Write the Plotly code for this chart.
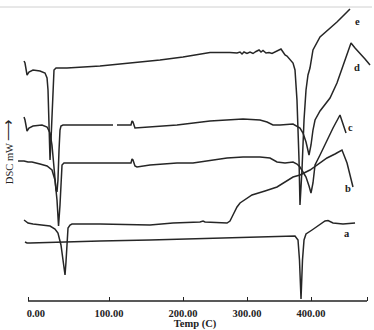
import numpy as np
import plotly.graph_objects as go

# ---- printed (non-uniform) temperature axis ----
TICK_TEMPS = [0, 100, 200, 300, 400]
TICK_LABELS = ["\u2007\u2007\u20070.00", "100.00", "200.00", "300.00", "400.00"]
TICK_POS = [0, 81, 155, 219, 283]      # where each printed tick sits on the axis
AXIS_END_T = 487.5

# ---- curves: temperature (C) / DSC signal (arbitrary mW units) ----
E_T = [-4.9, -3.7, -1.2, 1.2, 6.2, 14.8, 21.0, 23.5, 24.7, 25.9, 27.2, 28.4, 29.6, 30.9, 32.1, 34.6,
       48.1, 88.9, 132.4, 168.9, 200.0, 242.2, 273.4, 284.4, 289.1, 292.2, 295.3, 300.0, 304.7, 309.4,
       314.1, 318.8, 321.9, 325.0, 329.7, 334.4, 339.1, 343.8, 348.4, 353.1, 356.3, 359.4, 362.5,
       365.6, 368.8, 371.9, 375.0, 378.1,
       381.3, 382.8, 385.9, 389.1, 392.2, 395.3, 398.4, 400.0, 403.1, 414.1, 425.0, 440.6, 456.3, 460.9]
E_Y = [239, 237, 225, 228, 230, 229, 227, 222, 210, 180, 140, 160, 190, 220, 230, 232,
       232, 234, 237, 240, 243, 247.5, 247.5, 247, 248, 246, 248, 246.5, 248, 246.5,
       248.5, 250, 248, 249.5, 247, 247.5, 246.5, 248, 249, 251, 248, 245, 244,
       242, 240, 237, 230, 200,
       140, 95, 130, 180, 210, 225, 232, 238, 250, 263, 269, 278, 288, 291]

D_T = [-4.9, -3.7, -1.2, 1.2, 6.2, 17.3, 23.5, 27.2, 29.6, 32.1, 34.6, 35.8, 37.0, 38.3, 39.5, 40.7,
       43.2, 64.2, 105.4, None, 110.8, 129.7, 131.1, 132.4, 135.1, 155.4, 191.9, 242.2, 293.8, 320.3,
       331.3, 340.6, 351.6, 371.9, 378.1, 382.8, 387.5, 392.2, 396.9, 400.0, 403.1, 406.3, 414.1,
       421.9, 429.7, 440.6, 451.6, 462.5, 468.8, 476.6, 484.4, 492.2]
D_Y = [183, 180, 169, 172, 174, 175, 173, 167, 155, 135, 110, 108, 120, 150, 170, 174,
       175, 175, 175, None, 175, 175, 179, 178, 172, 173, 175, 179, 181, 180,
       178, 175, 175, 176, 174, 172, 167, 158, 145, 155, 170, 180, 189,
       196, 202, 217, 238, 257, 252, 247, 241, 235]

C_T = [-12.3, -4.9, 0.0, 4.9, 14.8, 23.5, 29.6, 33.3, 35.8, 37.7, 39.5, 40.7, 42.0, 44.4, 64.2,
       108.1, 129.7, 131.1, 132.4, 135.1, 137.8, 155.4, 191.9, 215.6, 268.8, 293.8, 320.3, 335.9,
       346.9, 359.4, 371.9, 378.1, 382.8, 387.5, 392.2, 396.9, 400.0, 403.1, 406.3, 414.1, 425.0,
       434.4, 445.3, 450.0, 454.7]
C_Y = [139, 139, 138, 138, 136, 134, 130, 120, 100, 74, 95, 120, 135, 137, 137,
       137, 137, 141, 140, 134, 133, 135, 137, 137, 142, 143, 143, 142,
       138, 137, 138, 136, 133, 128, 123, 114, 107, 117, 135, 145, 160,
       172, 185, 176, 167]

B_T = [-4.9, -2.5, 0.0, 6.2, 14.8, 27.2, 33.3, 37.0, 40.7, 43.2, 45.7, 46.9, 48.1, 49.4, 51.9, 54.3,
       88.9, 155.4, 186.5, 226.6, 231.3, 234.4, 268.8, 273.4, 278.1, 284.4, 289.1, 300.0, 307.8,
       328.1, 346.9, 371.9, 382.8, 398.4, 414.1, 425.0, 437.5, 448.4, 456.3, 460.9, 465.6]
B_Y = [80, 78, 77, 76, 75, 74, 71, 67, 55, 38, 25, 38, 60, 72, 75, 76,
       76, 75, 77, 78, 79, 78, 77, 79, 85, 93, 97, 102, 105,
       109, 113, 123, 125, 130, 137, 142, 146, 150, 137, 125, 113]

A_T = [-3.7, -1.2, 2.5, 39.5, 88.9, 155.4, 226.6, 304.7, 365.6, 375.0, 379.7, 382.0, 384.4, 386.7,
       389.1, 392.2, 401.6, 414.1, 421.9, 426.6, 434.4, 450.0, 460.9, 468.8]
A_Y = [58, 57, 57, 58, 59, 60, 61.5, 63, 64.5, 64, 60, 40, 1, 40, 60, 66, 70, 76, 79, 79.5, 77, 76,
       76.5, 77]

SERIES = [("a", A_T, A_Y), ("b", B_T, B_Y), ("c", C_T, C_Y), ("d", D_T, D_Y), ("e", E_T, E_Y)]
LABEL_POS = {"e": (473, 279), "d": (472, 233), "c": (461, 173), "b": (458, 112), "a": (456, 67)}


def to_axis(temps):
    t = np.array([np.nan if v is None else v for v in temps], dtype=float)
    u = np.interp(t, TICK_TEMPS, TICK_POS)
    lo_slope = (TICK_POS[1] - TICK_POS[0]) / (TICK_TEMPS[1] - TICK_TEMPS[0])
    hi_slope = (TICK_POS[-1] - TICK_POS[-2]) / (TICK_TEMPS[-1] - TICK_TEMPS[-2])
    u = np.where(t < TICK_TEMPS[0], TICK_POS[0] + (t - TICK_TEMPS[0]) * lo_slope, u)
    u = np.where(t > TICK_TEMPS[-1], TICK_POS[-1] + (t - TICK_TEMPS[-1]) * hi_slope, u)
    return u


def nan_to_none(arr):
    return [None if (v is None or (isinstance(v, float) and np.isnan(v))) else v for v in arr]


LINE = "#262626"
SERIF = "Liberation Serif, Times New Roman, serif"

fig = go.Figure()
for name, t, y in SERIES:
    fig.add_trace(go.Scatter(x=nan_to_none(to_axis(t).tolist()), y=y, mode="lines",
                             line=dict(color=LINE, width=1.5), connectgaps=False,
                             showlegend=False, hoverinfo="skip"))

for name, (t, y) in LABEL_POS.items():
    fig.add_annotation(x=float(to_axis([t])[0]), y=y, text="<b>%s</b>" % name, showarrow=False,
                       font=dict(family=SERIF, size=10.5, color="#222"))

axis_end = float(to_axis([AXIS_END_T])[0])
fig.add_shape(type="line", xref="x", yref="paper", x0=TICK_POS[0], x1=axis_end, y0=0, y1=0,
              line=dict(color="#222", width=1.4))
fig.add_shape(type="line", xref="paper", yref="paper", x0=-0.06, x1=1.0, y0=1.0, y1=1.0,
              line=dict(color="#d0d0d0", width=1))

fig.add_annotation(xref="paper", yref="paper", x=-0.028, y=0.51, xanchor="center", yanchor="middle",
                   text="DSC mW <span style='font-size:15px'>\u27f6</span>",
                   textangle=-90, showarrow=False, font=dict(family=SERIF, size=10.5, color="#222"))

fig.update_layout(
    width=374, height=330,
    margin=dict(l=18, r=2, t=7, b=29),
    paper_bgcolor="white", plot_bgcolor="white",
    xaxis=dict(range=[-10, 344], showgrid=False, zeroline=False, showline=False,
               tickmode="array", tickvals=TICK_POS + [axis_end], ticktext=TICK_LABELS + [""],
               ticks="inside", ticklen=4, tickcolor="#222", tickwidth=1.3,
               ticklabelstandoff=4,
               tickfont=dict(family=SERIF, size=10.5, color="#222", weight="bold"),
               title=dict(text="<b>Temp (C)</b>", font=dict(family=SERIF, size=10.5, color="#222"),
                          standoff=3)),
    yaxis=dict(range=[-1, 293], showgrid=False, zeroline=False, showline=False,
               showticklabels=False, ticks=""),
)

fig.write_html("out.html")
